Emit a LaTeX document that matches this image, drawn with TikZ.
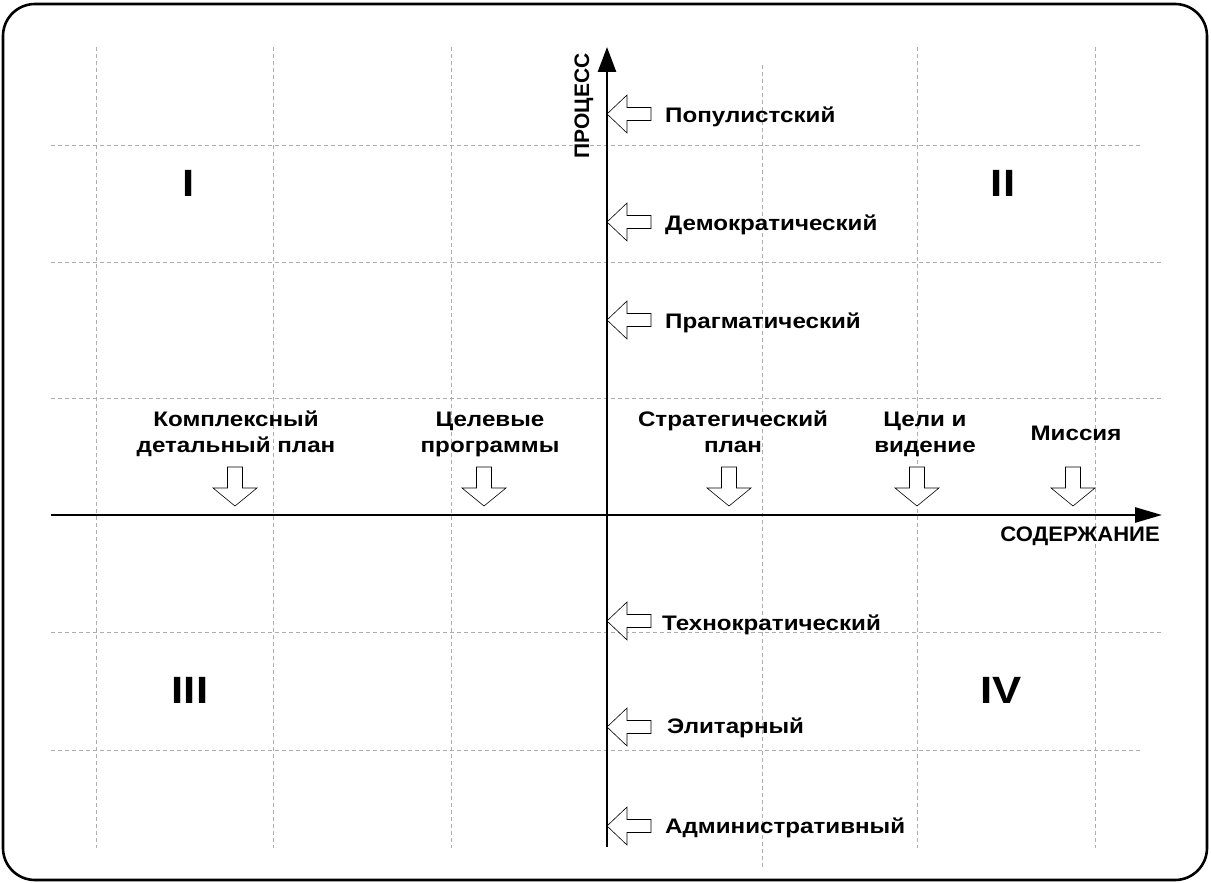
\documentclass[tikz,border=0pt]{standalone}
\usepackage{fontspec}
\usetikzlibrary{arrows.meta}
\setmainfont{Liberation Sans}
\newfontfamily\arl{Liberation Sans}
\newfontfamily\arlw{Liberation Sans}[FakeStretch=1.15]
\newfontfamily\arlc{Liberation Sans}[FakeStretch=1.05]
\tikzset{
  gridline/.style={draw=black!32, line width=0.9pt, dash pattern=on 4pt off 3pt},
  axisline/.style={line width=2.6pt, draw=black},
  hollow/.style={draw=black, line width=0.6pt, fill=white},
  lbl/.style={font=\arlw\bfseries\fontsize{21}{26}\selectfont, inner sep=0pt},
  caplbl/.style={font=\arlc\bfseries\fontsize{21}{26}\selectfont, inner sep=0pt},
  toplbl/.style={font=\arlw\bfseries\fontsize{21}{26}\selectfont, inner sep=0pt, align=center},
  roman/.style={font=\arlw\bfseries\fontsize{38}{40}\selectfont, inner sep=0pt},
  larrow/.pic={\draw[hollow] (0,0) -- (20,-19) -- (20,-6.5) -- (44,-6.5) -- (44,6.5) -- (20,6.5) -- (20,19) -- cycle;},
  darrow/.pic={\draw[hollow] (0,0) -- (-22,-18) -- (-7.5,-18) -- (-7.5,-39) -- (7.5,-39) -- (7.5,-18) -- (22,-18) -- cycle;}
}
\begin{document}
\begin{tikzpicture}[x=1pt,y=-1pt]
\useasboundingbox (0,0) rectangle (1211,883);
\draw[line width=2.6pt, rounded corners=32pt] (3,4) rectangle (1207,880);
% grid
\draw[gridline] (51,145) -- (1140,145);
\draw[gridline] (51,262) -- (1162,262);
\draw[gridline] (51,398) -- (1162,398);
\draw[gridline] (51,632) -- (1162,632);
\draw[gridline] (51,750) -- (1140,750);
\draw[gridline] (96,47) -- (96,848);
\draw[gridline] (273,47) -- (273,848);
\draw[gridline] (451,47) -- (451,848);
\draw[gridline] (762,65) -- (762,867);
\draw[gridline] (917,47) -- (917,848);
\draw[gridline] (1095,47) -- (1095,848);
% hollow arrows
\pic at (607,114) {larrow};
\pic at (607,222) {larrow};
\pic at (607,320) {larrow};
\pic at (607,621) {larrow};
\pic at (607,727) {larrow};
\pic at (607,826) {larrow};
\pic at (235,506) {darrow};
\pic at (484,506) {darrow};
\pic at (729,506) {darrow};
\pic at (917,506) {darrow};
\pic at (1073,506) {darrow};
% axes
\coordinate (xs) at (51,515);
\coordinate (xe) at (1162,515);
\coordinate (ys) at (607,847);
\coordinate (ye) at (607,47);
\draw[axisline, -{Triangle[length=27pt,width=15pt]}] (xs) -- (xe);
\draw[axisline, -{Triangle[length=25pt,width=18pt]}] (ys) -- (ye);
\node[caplbl, rotate=90, font=\arl\bfseries\fontsize{21}{26}\selectfont] (proc) at (584,106) {ПРОЦЕСС};
\node[caplbl, anchor=base east] (sod) at (1160,541) {СОДЕРЖАНИЕ};
% left labels
\node[lbl, anchor=base west] (l1) at (665,122) {Популистский};
\node[lbl, anchor=base west] (l2) at (665,230) {Демократический};
\node[lbl, anchor=base west] (l3) at (665,328) {Прагматический};
\node[lbl, anchor=base west] (l4) at (662,630) {Технократический};
\node[lbl, anchor=base west] (l5) at (667,733) {Элитарный};
\node[lbl, anchor=base west] (l6) at (665,833) {Административный};
% top labels
\node[toplbl] (t1) at (236,434) {\strut Комплексный\\\strut детальный план};
\node[toplbl] (t2) at (490,434) {\strut Целевые\\\strut программы};
\node[toplbl] (t3) at (733,434) {\strut Стратегический\\\strut план};
\node[toplbl] (t4) at (925,434) {\strut Цели и\\\strut видение};
\node[lbl, anchor=base] (t5) at (1076,440) {Миссия};
% quadrants
\node[roman, anchor=base] (q1) at (189,196) {I};
\node[roman, anchor=base] (q2) at (1003,196) {II};
\node[roman, anchor=base] (q3) at (190,703) {III};
\node[roman, anchor=base] (q4) at (1001,703) {IV};
\end{tikzpicture}
\end{document}
